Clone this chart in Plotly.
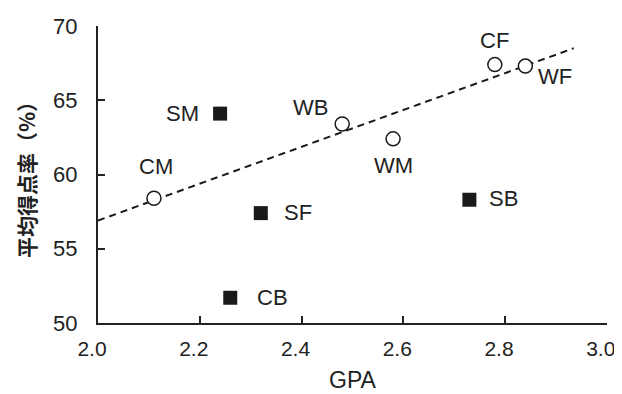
import plotly.graph_objects as go

# Data
circle_labels = ["CM", "WB", "WM", "CF", "WF"]
circle_gpa = [2.11, 2.48, 2.58, 2.78, 2.84]
circle_score = [58.4, 63.4, 62.4, 67.4, 67.3]

square_labels = ["SM", "SB", "SF", "CB"]
square_gpa = [2.24, 2.73, 2.32, 2.26]
square_score = [64.1, 58.3, 57.4, 51.7]

trend_gpa = [2.0, 2.935]
trend_score = [56.9, 68.5]

x_ticks = [2.0, 2.2, 2.4, 2.6, 2.8, 3.0]
y_ticks = [50, 55, 60, 65, 70]

# label offsets in pixels (style)
offsets = {
    "CM": (2, 32), "WB": (-32, 17), "WM": (0, -27), "CF": (0, 24), "WF": (30, -10),
    "SM": (-38, 0), "SB": (34, 1), "SF": (37, 1), "CB": (42, 0),
}

FONT = "Liberation Sans, Arial, sans-serif"
INK = "#222222"

fig = go.Figure()
fig.add_trace(go.Scatter(x=trend_gpa, y=trend_score, mode="lines",
                         line=dict(color="#1a1a1a", width=2, dash="7px,5px"),
                         hoverinfo="skip", showlegend=False))
fig.add_trace(go.Scatter(x=circle_gpa, y=circle_score, mode="markers",
                         marker=dict(symbol="circle", size=14, color="white",
                                     line=dict(color="#1a1a1a", width=1.5)),
                         showlegend=False))
fig.add_trace(go.Scatter(x=square_gpa, y=square_score, mode="markers",
                         marker=dict(symbol="square", size=14, color="#1a1a1a",
                                     line=dict(width=0)),
                         showlegend=False))

for lab, xv, yv in list(zip(circle_labels, circle_gpa, circle_score)) + \
        list(zip(square_labels, square_gpa, square_score)):
    dx, dy = offsets[lab]
    fig.add_annotation(x=xv, y=yv, text=lab, showarrow=False, xshift=dx, yshift=dy,
                       font=dict(family=FONT, size=22, color=INK))

# The page body adds an 8px margin, so the figure is sized to fit the window.
fig.update_layout(
    width=614, height=386,
    margin=dict(l=90, r=15, t=18, b=71),
    paper_bgcolor="white", plot_bgcolor="white",
    font=dict(family=FONT, size=22, color=INK),
    xaxis=dict(range=[2.0, 3.0005], tickvals=x_ticks, ticktext=[f"{v:.1f}" for v in x_ticks],
               showgrid=False, zeroline=False, showline=True, linecolor=INK, linewidth=2,
               ticks="inside", ticklen=7, tickwidth=1.5, tickcolor=INK,
               ticklabelstandoff=6, ticklabelshift=-6, automargin=False,
               ticklabeloverflow="allow",
               tickfont=dict(size=21, color=INK, family=FONT),
               title=dict(text="GPA", font=dict(size=23, color=INK, family=FONT), standoff=13)),
    yaxis=dict(range=[50, 70], tickvals=y_ticks,
               showgrid=False, zeroline=False, showline=True, linecolor=INK, linewidth=2,
               ticks="inside", ticklen=7, tickwidth=1.5, tickcolor=INK,
               ticklabelstandoff=14, automargin=False, ticklabeloverflow="allow",
               tickfont=dict(size=22, color=INK, family=FONT),
               title=dict(text="<b>平均得点率（%）</b>",
                          font=dict(size=21, family="Noto Sans CJK JP", color=INK), standoff=12)),
)

fig.write_html("out.html")
